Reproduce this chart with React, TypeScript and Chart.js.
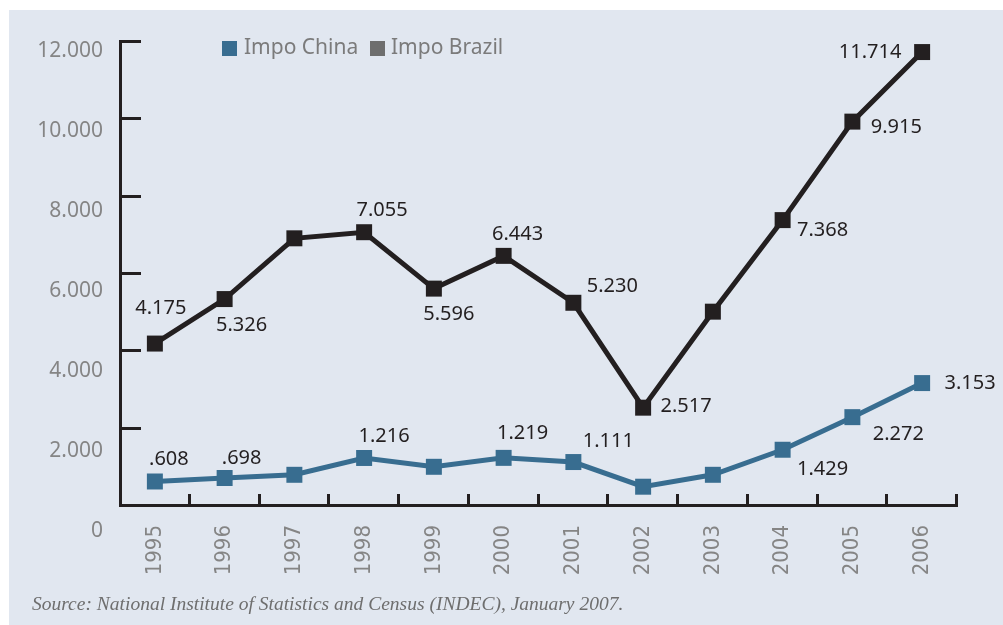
import React, { useEffect, useRef } from "react";
import { Chart, registerables } from "chart.js";

Chart.register(...registerables);

// ---- data ----
const years = ["1995", "1996", "1997", "1998", "1999", "2000", "2001", "2002", "2003", "2004", "2005", "2006"];
const impoChina = [608, 698, 781, 1216, 988, 1219, 1111, 473, 781, 1429, 2272, 3153];
const impoBrazil = [4175, 5326, 6897, 7055, 5596, 6443, 5230, 2517, 5000, 7368, 9915, 11714];
const yTickValues = [0, 2000, 4000, 6000, 8000, 10000, 12000];
const seriesNames = ["Impo China", "Impo Brazil"];
const sourceNote = "Source: National Institute of Statistics and Census (INDEC), January 2007.";

// ---- styles ----
const BG = "#e1e7f0";
const CHINA_COLOR = "#386d90";
const BRAZIL_COLOR = "#231f20";
const BRAZIL_LEGEND = "#6e6e6e";
const AXIS_COLOR = "#231f20";
const GRAY_TEXT = "#858585";
const FONT = "'Noto Sans', 'Open Sans', sans-serif";
const X_FONT = "'DejaVu Sans Condensed', 'Liberation Sans Narrow', 'Noto Sans', sans-serif";

// label placement (dx, dy from the marker centre) — null = no label
const chinaLabelOffsets: ([number, number] | null)[] = [
  [14, -23], [17, -21], null, [20, -23], null, [19, -26], [35, -22], null, null, [40, 19], [46, 16], [48, -1],
];
const brazilLabelOffsets: ([number, number] | null)[] = [
  [6, -36], [17, 25], null, [18, -23], [15, 25], [14, -23], [39, -17], [43, -2], null, [40, 9], [44, 5], [-52, -1],
];

const fmt = (v: number) => (v / 1000).toFixed(3).replace(/^0/, "");

const decorPlugin = {
  id: "decor",
  afterDraw(chart: any) {
    const { ctx, chartArea } = chart;
    const y = chart.scales.y;
    const x = chart.scales.x;
    ctx.save();
    // y ticks (inward)
    ctx.strokeStyle = AXIS_COLOR;
    ctx.lineWidth = 3;
    yTickValues.forEach((v) => {
      if (v === 0) return;
      const py = Math.round(y.getPixelForValue(v)) + 0.5;
      ctx.beginPath();
      ctx.moveTo(chartArea.left, py);
      ctx.lineTo(chartArea.left + 21, py);
      ctx.stroke();
    });
    // x ticks at category boundaries (upward)
    const n = years.length;
    for (let i = 1; i <= n; i++) {
      let px;
      if (i === n) px = chartArea.right;
      else px = (x.getPixelForTick(i - 1) + x.getPixelForTick(i)) / 2;
      px = Math.round(px) - 0.5;
      ctx.beginPath();
      ctx.moveTo(px, chartArea.bottom);
      ctx.lineTo(px, chartArea.bottom - 11);
      ctx.stroke();
    }
    // y labels
    ctx.fillStyle = GRAY_TEXT;
    ctx.font = `21px ${FONT}`;
    ctx.textAlign = "right";
    ctx.textBaseline = "middle";
    const base = y.getPixelForValue(0) + 25;
    const step = (y.getPixelForValue(0) - y.getPixelForValue(2000)) * (80 / 77.3);
    yTickValues.forEach((v) => {
      const label = v === 0 ? "0" : (v / 1000).toFixed(3);
      ctx.fillText(label, chartArea.left - 17, base - (v / 2000) * step + 1);
    });
    // data labels
    ctx.fillStyle = BRAZIL_COLOR;
    ctx.font = `20px ${FONT}`;
    ctx.textAlign = "center";
    const offsets = [chinaLabelOffsets, brazilLabelOffsets];
    chart.data.datasets.forEach((ds: any, di: number) => {
      const meta = chart.getDatasetMeta(di);
      meta.data.forEach((pt: any, i: number) => {
        const off = offsets[di][i];
        if (!off) return;
        ctx.fillText(fmt(ds.data[i]), pt.x + off[0], pt.y + off[1] + 1);
      });
    });
    ctx.restore();
  },
};

export default function App() {
  const ref = useRef<HTMLCanvasElement>(null);
  useEffect(() => {
    if (!ref.current) return;
    const chart = new Chart(ref.current, {
      type: "line",
      data: {
        labels: years,
        datasets: [
          {
            label: seriesNames[0],
            data: impoChina,
            borderColor: CHINA_COLOR,
            backgroundColor: CHINA_COLOR,
            borderWidth: 5,
            pointStyle: "rect",
            pointRadius: 11.3,
            pointBorderWidth: 0,
            pointBackgroundColor: CHINA_COLOR,
            tension: 0,
            clip: false as any,
          },
          {
            label: seriesNames[1],
            data: impoBrazil,
            borderColor: BRAZIL_COLOR,
            backgroundColor: BRAZIL_COLOR,
            borderWidth: 5,
            pointStyle: "rect",
            pointRadius: 11.3,
            pointBorderWidth: 0,
            pointBackgroundColor: BRAZIL_COLOR,
            tension: 0,
            clip: false as any,
          },
        ],
      },
      options: {
        responsive: false,
        animation: false,
        devicePixelRatio: 1,
        layout: { padding: { left: 0, top: 41, right: 46, bottom: 0 } },
        plugins: {
          legend: { display: false },
          tooltip: { enabled: false },
          title: { display: false },
        },
        scales: {
          x: {
            type: "category",
            offset: true,
            grid: { display: false, offset: true },
            border: { display: true, color: AXIS_COLOR, width: 3 },
            ticks: {
              color: GRAY_TEXT,
              font: { family: X_FONT, size: 22 },
              minRotation: 90,
              maxRotation: 90,
              autoSkip: false,
              padding: 12,
            },
            afterFit: (s: any) => {
              s.height = 120;
            },
          },
          y: {
            type: "linear",
            min: 0,
            max: 12000,
            grid: { display: false },
            border: { display: true, color: AXIS_COLOR, width: 3 },
            ticks: { display: false, stepSize: 2000 },
            afterFit: (s: any) => {
              s.width = 120;
            },
          },
        },
      },
      plugins: [decorPlugin],
    });
    return () => chart.destroy();
  }, []);

  const legendText: React.CSSProperties = {
    position: "absolute",
    top: 36,
    fontFamily: FONT,
    fontSize: 21,
    lineHeight: "21px",
    color: "#7b7b7b",
    whiteSpace: "nowrap",
  };

  return (
    <div style={{ position: "absolute", left: 0, top: 0, width: 1003, height: 625, background: "#ffffff", overflow: "hidden" }}>
      <div style={{ position: "absolute", left: 9, top: 10, width: 994, height: 615, background: BG }} />
      <canvas ref={ref} width={1003} height={625} style={{ position: "absolute", left: 0, top: 0, width: 1003, height: 625 }} />
      <div style={{ position: "absolute", left: 222, top: 40.5, width: 15, height: 15, background: CHINA_COLOR }} />
      <div style={{ ...legendText, left: 244 }}>{seriesNames[0]}</div>
      <div style={{ position: "absolute", left: 370, top: 40.5, width: 15, height: 15, background: BRAZIL_LEGEND }} />
      <div style={{ ...legendText, left: 391 }}>{seriesNames[1]}</div>
      <div
        style={{
          position: "absolute",
          left: 32,
          top: 594,
          fontFamily: "'Liberation Serif', 'Times New Roman', serif",
          fontStyle: "italic",
          fontSize: 19.5,
          lineHeight: "20px",
          color: "#6e6e6e",
          whiteSpace: "nowrap",
        }}
      >
        {sourceNote}
      </div>
    </div>
  );
}
